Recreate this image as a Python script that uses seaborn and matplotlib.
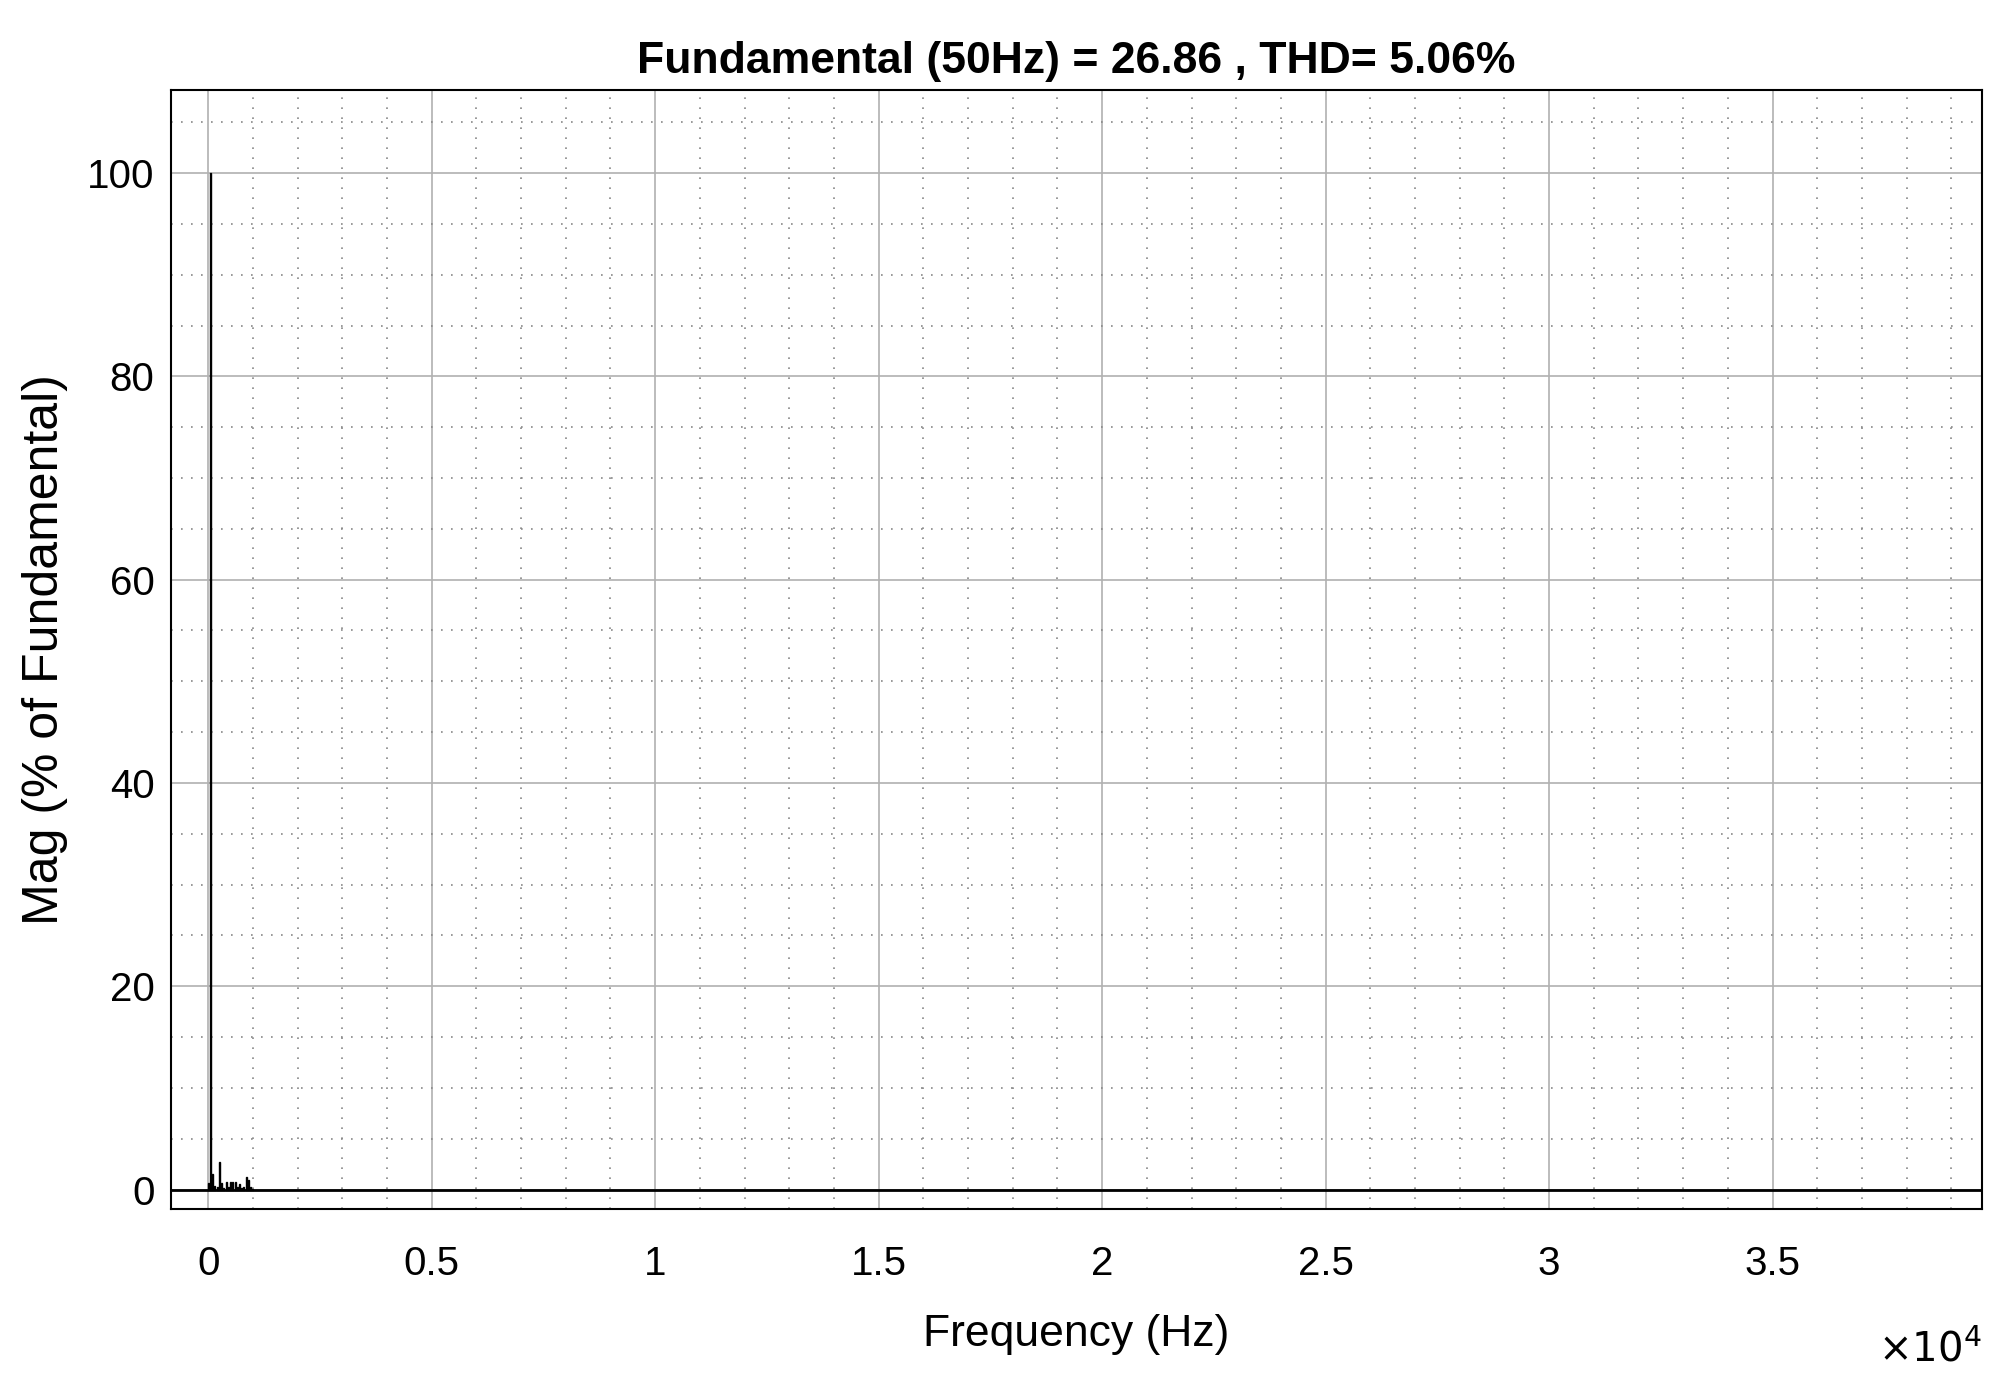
import matplotlib
matplotlib.use("Agg")
import matplotlib.pyplot as plt
import seaborn as sns
import numpy as np
from matplotlib.ticker import MultipleLocator

freqs = [0, 50, 100, 150, 200, 250, 300, 350, 400, 450, 500, 550, 600, 650, 700, 750, 800, 850, 900, 950, 1000]
mags = [0.6, 100, 1.5, 0.4, 0.3, 2.7, 0.6, 0.2, 0.7, 0.3, 0.7, 0.7, 0.7, 0.3, 0.5, 0.2, 0.3, 1.2, 0.9, 0.3, 0.1]
xticks = [0, 5000, 10000, 15000, 20000, 25000, 30000, 35000]
xtick_labels = ["0", "0.5", "1", "1.5", "2", "2.5", "3", "3.5"]
yticks = [0, 20, 40, 60, 80, 100]

sns.set_style("white")
plt.rcParams['font.family'] = ['Liberation Sans', 'DejaVu Sans']
plt.rcParams['text.color'] = 'black'

fig = plt.figure(figsize=(20.02, 13.8), dpi=100)
ax = fig.add_axes([0.0855, 0.124, 0.9045, 0.811])
ax.bar(freqs, mags, width=22, color="black", edgecolor="black", linewidth=1)
ax.axhline(0, color="black", lw=2)
ax.set_xlim(-829, 39686)
ax.set_ylim(-1.9, 108.2)
ax.set_xticks(xticks)
ax.set_xticklabels(xtick_labels)
ax.set_yticks(yticks)
ax.xaxis.set_minor_locator(MultipleLocator(1000))
ax.yaxis.set_minor_locator(MultipleLocator(5))
ax.grid(which="major", color="#b0b0b0", lw=1.2, ls="-")
ax.grid(which="minor", color="#888888", lw=1.2, ls=(0, (1, 5)))
ax.set_axisbelow(True)
for s in ax.spines.values():
    s.set_color("black"); s.set_linewidth(1.5)
ax.tick_params(axis="both", which="major", labelsize=29, direction="in", length=8,
               color="black", labelcolor="black")
ax.tick_params(axis="x", which="major", pad=26)
ax.tick_params(axis="y", which="major", pad=12)
ax.tick_params(which="minor", length=0)
ax.set_xlabel("Frequency (Hz)", fontsize=32, labelpad=22, color="black")
ax.set_ylabel("Mag (% of Fundamental)", fontsize=36, labelpad=14, color="black")
ax.set_title("Fundamental (50Hz) = 26.86 , THD= 5.06%", fontsize=32, fontweight="bold", pad=12, color="black")
fig.text(0.99, 0.022, r"$\times10^4$", fontsize=29, ha="right", va="center", color="black")
fig.savefig("out.png", dpi=100, facecolor="white")
